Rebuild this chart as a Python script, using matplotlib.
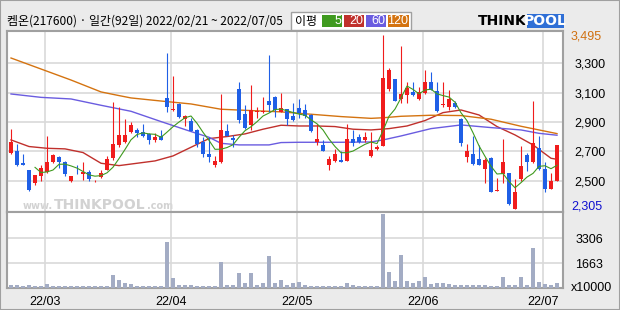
import matplotlib
matplotlib.use("Agg")
import matplotlib.pyplot as plt
from matplotlib.patches import Rectangle
import numpy as np
import pandas as pd

plt.rcParams['font.family'] = ['Noto Sans CJK KR', 'DejaVu Sans']

TITLE = "켐온(217600) · 일간(92일) 2022/02/21 ~ 2022/07/05"
START, END = "2022-02-21", "2022-07-05"
HOLIDAYS = ["2022-03-01", "2022-03-09", "2022-05-05", "2022-06-01", "2022-06-06"]

# daily OHLC (won)
opens = [2690, 2705, 2620, 2575, 2485, 2530, 2560, 2625, 2665, 2630,
         2495, 2555, 2545, 2560, 2495, 2525, 2575, 2655, 2745, 2765,
         2830, 2845, 2830, 2815, 2775, 2805, 3065, 2980, 3025, 2920,
         2905, 2845, 2765, 2685, 2610, 2625, 2840, 2790, 3125, 2955,
         2880, 2965, 2965, 3045, 3070, 2970, 2990, 2940, 2995, 2985,
         2950, 2765, 2745, 2610, 2635, 2640, 2635, 2785, 2800, 2780,
         2670, 2715, 2740, 3125, 3195, 3060, 3085, 3105, 3060, 3095,
         3175, 3110, 3015, 3000, 3030, 2920, 2660, 2685, 2650, 2580,
         2655, 2430, 2545, 2550, 2310, 2510, 2675, 2630, 2720, 2580,
         2445, 2495]
highs = [2855, 2750, 2685, 2575, 2540, 2610, 2805, 2685, 2670, 2635,
         2535, 2610, 2625, 2575, 2505, 2570, 2670, 3035, 3000, 2920,
         2900, 2860, 2885, 2825, 2825, 2845, 3370, 3215, 3030, 2950,
         2925, 2850, 2800, 2795, 2670, 3090, 2885, 2810, 3170, 3015,
         3150, 3000, 3070, 3355, 3080, 3095, 2990, 3030, 3055, 3025,
         2955, 2885, 2780, 2670, 2715, 2705, 2885, 2845, 2820, 2830,
         2830, 2745, 3495, 3270, 3195, 3415, 3175, 3175, 3140, 3255,
         3240, 3175, 3170, 3120, 3040, 2930, 2750, 2805, 2745, 2655,
         2665, 2520, 2785, 2555, 2510, 2735, 2690, 3045, 2805, 2625,
         2550, 2745]
lows = [2685, 2600, 2610, 2430, 2470, 2500, 2555, 2620, 2590, 2535,
        2490, 2545, 2505, 2500, 2490, 2520, 2575, 2640, 2730, 2760,
        2825, 2800, 2800, 2750, 2765, 2780, 2970, 2975, 2930, 2870,
        2840, 2730, 2665, 2630, 2595, 2620, 2805, 2730, 2895, 2855,
        2845, 2930, 2960, 2970, 2935, 2965, 2880, 2910, 2925, 2930,
        2830, 2745, 2700, 2575, 2630, 2630, 2635, 2735, 2755, 2765,
        2665, 2710, 2735, 3110, 3045, 3030, 3030, 3075, 3050, 3090,
        3115, 2970, 3005, 2985, 2995, 2735, 2625, 2610, 2605, 2485,
        2420, 2430, 2485, 2335, 2305, 2500, 2565, 2620, 2575, 2425,
        2445, 2495]
closes = [2765, 2605, 2610, 2435, 2540, 2590, 2625, 2675, 2630, 2545,
          2530, 2550, 2560, 2515, 2500, 2550, 2645, 2750, 2810, 2810,
          2880, 2825, 2805, 2775, 2795, 2780, 3000, 2990, 2935, 2940,
          2840, 2750, 2685, 2660, 2635, 2845, 2805, 2780, 2915, 2860,
          2980, 2975, 2975, 3015, 2980, 2995, 2920, 2915, 2960, 2940,
          2840, 2785, 2705, 2650, 2685, 2630, 2785, 2760, 2765, 2800,
          2710, 2730, 3200, 3255, 3045, 3090, 3135, 3085, 3105, 3175,
          3120, 2975, 3025, 3055, 3000, 2760, 2705, 2615, 2610, 2640,
          2425, 2440, 2630, 2340, 2425, 2600, 2630, 2755, 2580, 2445,
          2500, 2745]
# volume, x10000 shares
volumes = [180, 180, 150, 170, 120, 120, 245, 112, 112, 112,
           112, 112, 112, 112, 112, 112, 150, 850, 515, 335,
           245, 112, 112, 112, 112, 112, 3060, 650, 180, 180,
           180, 112, 112, 112, 112, 1720, 180, 180, 1005, 315,
           1005, 200, 315, 2120, 315, 515, 180, 315, 380, 180,
           150, 150, 150, 150, 150, 150, 315, 180, 112, 112,
           112, 112, 4935, 1050, 450, 2190, 450, 315, 450, 715,
           245, 315, 315, 245, 180, 180, 180, 180, 180, 180,
           112, 112, 715, 180, 180, 715, 180, 2660, 380, 245,
           180, 315]

# moving averages (candle index, price)
ma20_idx = [0, 3, 6, 9, 12, 15, 18, 21, 24, 27, 30, 33, 36, 39, 42, 45,
            48, 51, 54, 57, 60, 63, 66, 69, 72, 75, 78, 81, 84, 87, 90, 91]
ma20_val = [2778, 2733, 2721, 2717, 2692, 2619, 2603, 2619, 2635, 2669,
            2728, 2787, 2801, 2819, 2851, 2878, 2873, 2873, 2869, 2851,
            2846, 2855, 2873, 2910, 2964, 2982, 2948, 2869, 2812, 2744,
            2653, 2646]
ma60_idx = [0, 5, 10, 15, 20, 25, 30, 33, 35, 38, 43, 45, 48, 55, 60, 62,
            65, 70, 75, 80, 85, 88, 91]
ma60_val = [3091, 3068, 3057, 3014, 2973, 2903, 2835, 2796, 2755, 2744,
            2744, 2760, 2762, 2762, 2764, 2778, 2805, 2855, 2880, 2862,
            2846, 2823, 2810]
ma120_idx = [0, 5, 10, 15, 18, 20, 25, 30, 35, 40, 45, 50, 55, 60, 62, 65,
             70, 75, 80, 85, 88, 91]
ma120_val = [3336, 3261, 3186, 3105, 3080, 3064, 3043, 3023, 2987, 2978,
             2969, 2953, 2937, 2925, 2929, 2939, 2946, 2944, 2919, 2871,
             2846, 2821]

price_ticks = [2500, 2700, 2900, 3100, 3300]
vol_ticks = [1663, 3306]

UP, DOWN = "#f01c1c", "#1f5fe6"
C5, C20, C60, C120 = "#3f9a1f", "#c0302c", "#6a5ce0", "#d47310"
GRID = "#d9d9d9"
BORDER = "#a0a0a0"
WATER = "#d2d2d2"
W, H = 620, 310


def fx(x):
    return x / W


def fy(y):
    return 1 - y / H


def main():
    days = pd.bdate_range(START, END)
    days = days[~days.isin(pd.to_datetime(HOLIDAYS))]
    idx = np.arange(len(days))
    month_first = [i for i in idx if i > 0 and days[i].month != days[i - 1].month]
    month_pos = [i - 0.4 for i in month_first]
    month_lab = [days[i].strftime("%y/%m") for i in month_first]

    fig = plt.figure(figsize=(6.2, 3.1), dpi=100, facecolor="#ebebeb")
    fig.patches.append(Rectangle((0, 0), 1, 1, transform=fig.transFigure,
                                 fill=False, edgecolor=BORDER, lw=1.5))

    ax = fig.add_axes([fx(7), fy(212), (563 - 7) / W, (212 - 31) / H])
    axv = fig.add_axes([fx(7), fy(288), (563 - 7) / W, (288 - 212) / H], sharex=ax)

    o, h, l, c = map(np.array, (opens, highs, lows, closes))
    colors = np.where(c >= o, UP, DOWN)

    ax.vlines(idx, l, h, colors=colors, lw=0.8, zorder=3)
    ax.bar(idx, np.maximum(np.abs(c - o), 6), bottom=np.minimum(o, c),
           width=0.75, color=colors, linewidth=0, zorder=4)

    ma5 = pd.Series(closes).rolling(5).mean()
    ax.plot(idx, ma5, color=C5, lw=0.8, zorder=5)
    ax.plot(ma20_idx, ma20_val, color=C20, lw=1.0, zorder=2)
    ax.plot(ma60_idx, ma60_val, color=C60, lw=1.0, zorder=2)
    ax.plot(ma120_idx, ma120_val, color=C120, lw=1.0, zorder=2)

    ax.set_xlim(-0.67, 92)
    ax.set_ylim(2287, 3520)
    ax.set_yticks(price_ticks)
    ax.set_yticklabels([f"{v:,}" for v in price_ticks], family="Liberation Sans", fontsize=9)
    ax.yaxis.tick_right()
    ax.tick_params(axis="y", length=0, pad=8)
    ax.set_xticks(month_pos)
    ax.tick_params(axis="x", length=0, labelbottom=False)
    ax.grid(True, color=GRID, lw=1.2, zorder=0)
    for s in ax.spines.values():
        s.set_color(BORDER)
        s.set_linewidth(1.5)

    hi, lo = max(highs), min(lows)
    ax.annotate(f"{hi:,}", (1, hi), xycoords=("axes fraction", "data"),
                xytext=(8, -2), textcoords="offset pixels", va="center", ha="left",
                color="#d07010", family="Liberation Sans", fontsize=9)
    ax.annotate(f"{lo:,}", (1, lo), xycoords=("axes fraction", "data"),
                xytext=(8, 3), textcoords="offset pixels", va="center", ha="left",
                color="#1010d0", family="Liberation Sans", fontsize=9)

    # watermark, behind the candles: pieces laid out one after another
    renderer = fig.canvas.get_renderer()
    x = 23
    for s, size in [("www.", 7), ("THINKPOOL", 10), (".com", 7)]:
        t = ax.text(fx(x), fy(209), s, transform=fig.transFigure, color=WATER,
                    fontsize=size, family="DejaVu Sans", fontweight="bold",
                    va="baseline", ha="left", zorder=1)
        x += t.get_window_extent(renderer).width + 1

    axv.bar(idx, volumes, width=0.8, color="#a3acc4", linewidth=0, zorder=3)
    axv.set_ylim(0, 5065)
    axv.set_yticks(vol_ticks)
    axv.set_yticklabels([str(v) for v in vol_ticks], family="Liberation Sans", fontsize=9)
    axv.yaxis.tick_right()
    axv.tick_params(axis="y", length=0, pad=9)
    axv.set_xticks(month_pos)
    axv.set_xticklabels(month_lab, family="Liberation Sans", fontsize=9)
    axv.tick_params(axis="x", length=0, pad=6)
    axv.grid(True, color=GRID, lw=1.2, zorder=0)
    for s in axv.spines.values():
        s.set_color(BORDER)
        s.set_linewidth(1.5)
    fig.text(fx(612), fy(288), "x10000", ha="right", va="center",
             family="Liberation Sans", fontsize=9)

    # header
    fig.text(fx(7), fy(21), TITLE, ha="left", va="center", fontsize=8.6)
    fig.patches.append(Rectangle((fx(291), fy(30)), (411 - 291) / W, 18 / H,
                                 transform=fig.transFigure, facecolor="white",
                                 edgecolor=BORDER, lw=1))
    fig.text(fx(306), fy(21), "이평", ha="center", va="center", fontsize=8.6)
    for (x0, x1), col, lab in zip([(322, 342), (344, 364), (366, 386), (388, 409)],
                                  [C5, C20, C60, C120], ["5", "20", "60", "120"]):
        fig.patches.append(Rectangle((fx(x0), fy(27)), (x1 - x0) / W, 12 / H,
                                     transform=fig.transFigure, facecolor=col, lw=0))
        fig.text(fx(x1 - 1), fy(21), lab, ha="right", va="center", color="white",
                 family="Liberation Sans", fontsize=9)

    # logo
    fig.patches.append(Rectangle((fx(527), fy(28)), 37 / W, 14 / H,
                                 transform=fig.transFigure, facecolor="#2f6fd6", lw=0))
    fig.text(fx(527), fy(21), "THINK", ha="right", va="center", fontsize=10,
             family="DejaVu Sans", fontweight="bold", color="black")
    fig.text(fx(545.5), fy(21), "POOL", ha="center", va="center", fontsize=10,
             family="DejaVu Sans", fontweight="bold", color="white")

    fig.savefig("out.png", dpi=100, facecolor=fig.get_facecolor())


if __name__ == "__main__":
    main()
